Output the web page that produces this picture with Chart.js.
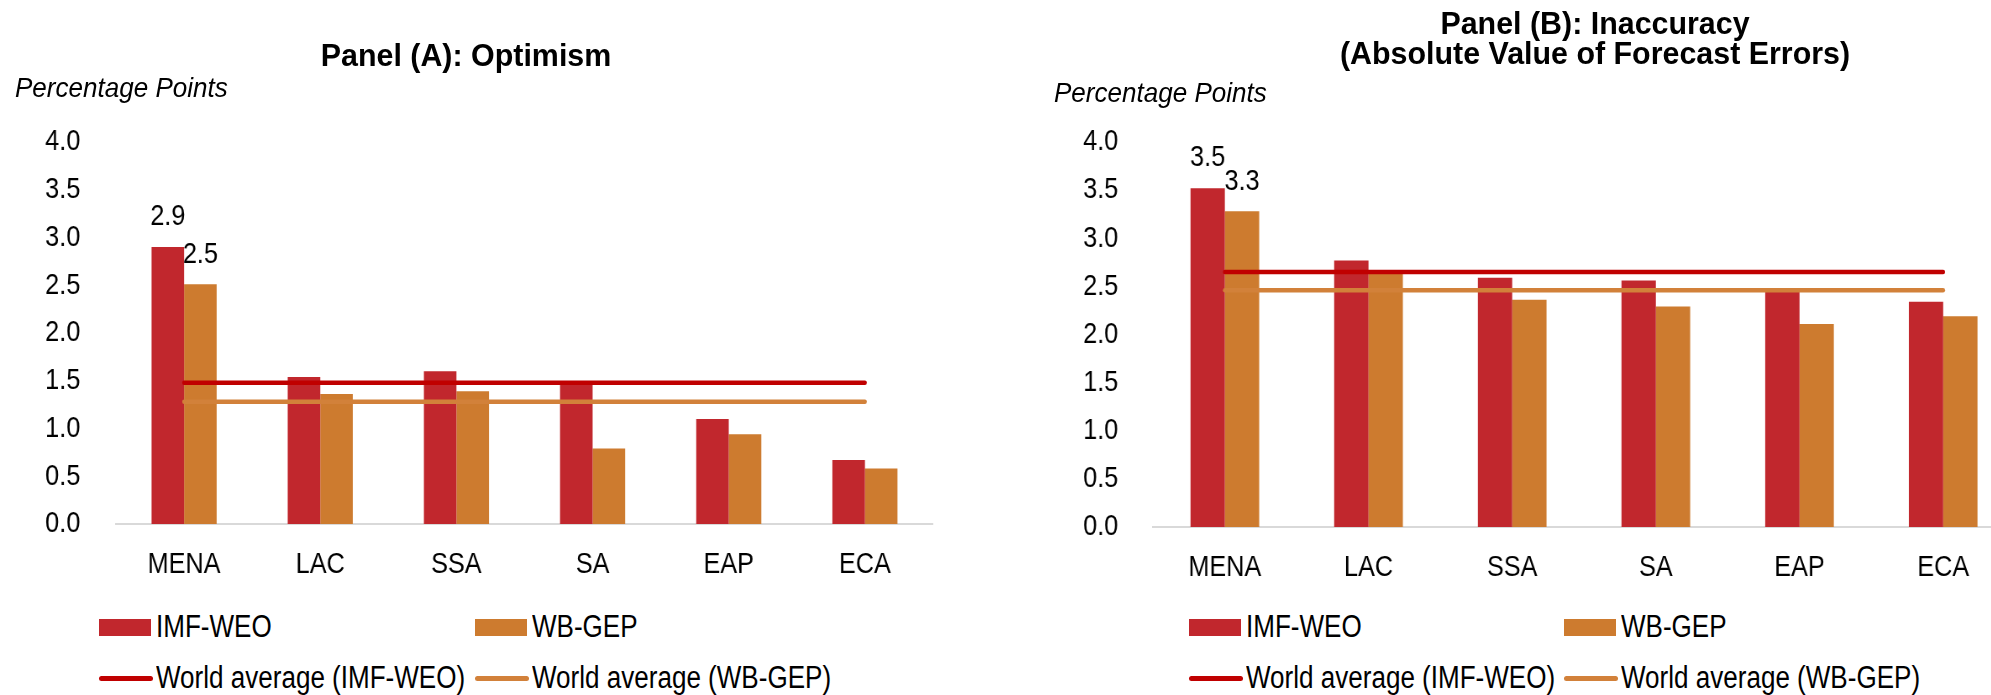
<!DOCTYPE html>
<html>
<head>
<meta charset="utf-8">
<script src="https://cdn.jsdelivr.net/npm/chart.js@4.4.1/dist/chart.umd.min.js"></script>
<style>
  html, body { margin: 0; padding: 0; background: #fff; overflow: hidden; }
  body { width: 1991px; height: 695px; position: relative; color: #000;
         font-family: 'Liberation Sans Narrow', 'Arial Narrow', 'Liberation Sans', Arial, sans-serif; }
  /* no hay fuente "narrow" instalada: se comprime en horizontal */
  .panel { position: absolute; top: 0; height: 600px; transform-origin: 0 0; }
  .title { position: absolute; font-weight: bold; font-size: 32px; line-height: 30px;
           text-align: center; white-space: nowrap; transform: translateX(-50%) scaleX(0.95); }
  .unit { position: absolute; font-style: italic; font-size: 28px; line-height: 30px; white-space: nowrap;
          transform: scaleX(0.93); transform-origin: 0 50%; }
  .leg { position: absolute; height: 40px; font-size: 31px; line-height: 40px; white-space: nowrap; }
  .leg i { position: absolute; left: 0; }
  .leg span { position: absolute; left: 57px; top: 0; transform: scaleX(0.84); transform-origin: 0 50%; }
</style>
</head>
<body>
<div class="panel" id="boxA"><canvas id="chartA"></canvas></div>
<div class="panel" id="boxB"><canvas id="chartB"></canvas></div>

<div class="title" style="left:466px; top:40px;">Panel (A): Optimism</div>
<div class="title" style="left:1595px; top:8px;">Panel (B): Inaccuracy<br>(Absolute Value of Forecast Errors)</div>
<div class="unit" style="left:15px; top:73px;">Percentage Points</div>
<div class="unit" style="left:1054px; top:78px;">Percentage Points</div>

<script>
// categorias (regiones)
const regions = ['MENA', 'LAC', 'SSA', 'SA', 'EAP', 'ECA'];
const yTickValues = [0, 0.5, 1, 1.5, 2, 2.5, 3, 3.5, 4];

// Panel A: optimism
const imfA = [2.90, 1.54, 1.60, 1.49, 1.10, 0.67];
const wbA = [2.51, 1.36, 1.39, 0.79, 0.94, 0.58];
const avgImfA = [1.48, 1.48, 1.48, 1.48, 1.48, 1.48];
const avgWbA = [1.28, 1.28, 1.28, 1.28, 1.28, 1.28];

// Panel B: inaccuracy
const imfB = [3.52, 2.77, 2.59, 2.56, 2.46, 2.34];
const wbB = [3.28, 2.65, 2.36, 2.29, 2.11, 2.19];
const avgImfB = [2.65, 2.65, 2.65, 2.65, 2.65, 2.65];
const avgWbB = [2.46, 2.46, 2.46, 2.46, 2.46, 2.46];

// solo MENA lleva etiqueta de valor
const labeledIndexes = [0];

const seriesNames = ['IMF-WEO', 'WB-GEP', 'World average (IMF-WEO)', 'World average (WB-GEP)'];
const colors = {
    imfBar: '#c1272d',
    wbBar: '#cd7b2f',
    imfLine: '#c00000',
    wbLine: '#d2813a'
};

// factor de compresion horizontal (imita Arial Narrow)
const S = 0.84;

const FONT = "'Liberation Sans Narrow', 'Arial Narrow', 'Liberation Sans', Arial, sans-serif";
Chart.defaults.font.family = FONT;
Chart.defaults.font.size = 30;
Chart.defaults.color = '#000';

const valueLabels = {
    id: 'valueLabels',
    afterDatasetsDraw(chart) {
        const ctx = chart.ctx;
        ctx.save();
        ctx.font = '30px ' + FONT;
        ctx.fillStyle = '#000';
        ctx.textAlign = 'center';
        ctx.textBaseline = 'middle';
        chart.data.datasets.forEach((ds, i) => {
            if (ds.type !== 'bar') return;
            const meta = chart.getDatasetMeta(i);
            labeledIndexes.forEach(j => {
                const el = meta.data[j];
                ctx.fillText(ds.data[j].toFixed(1), el.x, el.y - 30);
            });
        });
        ctx.restore();
    }
};

// box: posicion en la pagina (px reales); se convierte a px internos del canvas
function makeChart(id, boxId, imf, wb, avgImf, avgWb, box) {
    const wrap = document.getElementById(boxId);
    wrap.style.left = box.left + 'px';
    wrap.style.transform = `scaleX(${S})`;
    const canvas = document.getElementById(id);
    const innerW = Math.round(box.width / S);
    canvas.width = innerW;
    canvas.height = 600;

    const plotLeft = (box.plotLeft - box.left) / S;
    const plotRight = (box.plotRight - box.left) / S;

    const lineDs = (label, data, color) => ({
        type: 'line', label, data,
        borderColor: color, borderWidth: 4.5, borderCapStyle: 'round',
        pointRadius: 0, fill: false, order: 1
    });
    const barDs = (label, data, color) => ({
        type: 'bar', label, data,
        backgroundColor: color, borderWidth: 0,
        categoryPercentage: 0.478, barPercentage: 1.0, order: 2
    });
    return new Chart(canvas, {
        type: 'bar',
        data: {
            labels: regions,
            datasets: [
                barDs(seriesNames[0], imf, colors.imfBar),
                barDs(seriesNames[1], wb, colors.wbBar),
                lineDs(seriesNames[2], avgImf, colors.imfLine),
                lineDs(seriesNames[3], avgWb, colors.wbLine)
            ]
        },
        options: {
            responsive: false,
            animation: false,
            layout: { padding: { top: box.plotTop, right: innerW - plotRight, left: 0, bottom: 0 } },
            plugins: { legend: { display: false }, tooltip: { enabled: false } },
            scales: {
                x: {
                    grid: { display: false },
                    border: { display: true, color: '#d9d9d9', width: 2 },
                    ticks: { padding: 15, maxRotation: 0, autoSkip: false },
                    afterFit: s => { s.height = 600 - box.plotBottom; }
                },
                y: {
                    min: 0, max: 4,
                    grid: { display: false },
                    border: { display: false },
                    afterBuildTicks: s => { s.ticks = yTickValues.map(v => ({ value: v })); },
                    ticks: { padding: box.tickGap / S, callback: v => Number(v).toFixed(1) },
                    afterFit: s => { s.width = plotLeft; }
                }
            }
        },
        plugins: [valueLabels]
    });
}

makeChart('chartA', 'boxA', imfA, wbA, avgImfA, avgWbA,
    { left: 0, width: 1000, plotLeft: 116, plotRight: 933, plotTop: 142, plotBottom: 524, tickGap: 29 });
makeChart('chartB', 'boxB', imfB, wbB, avgImfB, avgWbB,
    { left: 1000, width: 1100, plotLeft: 1153, plotRight: 2015, plotTop: 142, plotBottom: 527, tickGap: 28 });

// leyenda en HTML, dos columnas
function buildLegend(cols, rows) {
    const items = [
        { name: seriesNames[0], color: colors.imfBar, kind: 'box' },
        { name: seriesNames[1], color: colors.wbBar, kind: 'box' },
        { name: seriesNames[2], color: colors.imfLine, kind: 'line' },
        { name: seriesNames[3], color: colors.wbLine, kind: 'line' }
    ];
    items.forEach((it, k) => {
        const div = document.createElement('div');
        div.className = 'leg';
        div.style.left = cols[k % 2] + 'px';
        div.style.top = (rows[Math.floor(k / 2)] - 20) + 'px';
        const mark = document.createElement('i');
        if (it.kind === 'box') {
            mark.style.cssText = `top:12px;width:52px;height:17px;background:${it.color};`;
        } else {
            mark.style.cssText = `top:18px;width:54px;height:5px;border-radius:3px;background:${it.color};`;
        }
        const txt = document.createElement('span');
        txt.textContent = it.name;
        div.appendChild(mark);
        div.appendChild(txt);
        document.body.appendChild(div);
    });
}
buildLegend([99, 475], [627, 678]);
buildLegend([1189, 1564], [627, 678]);
</script>
</body>
</html>
